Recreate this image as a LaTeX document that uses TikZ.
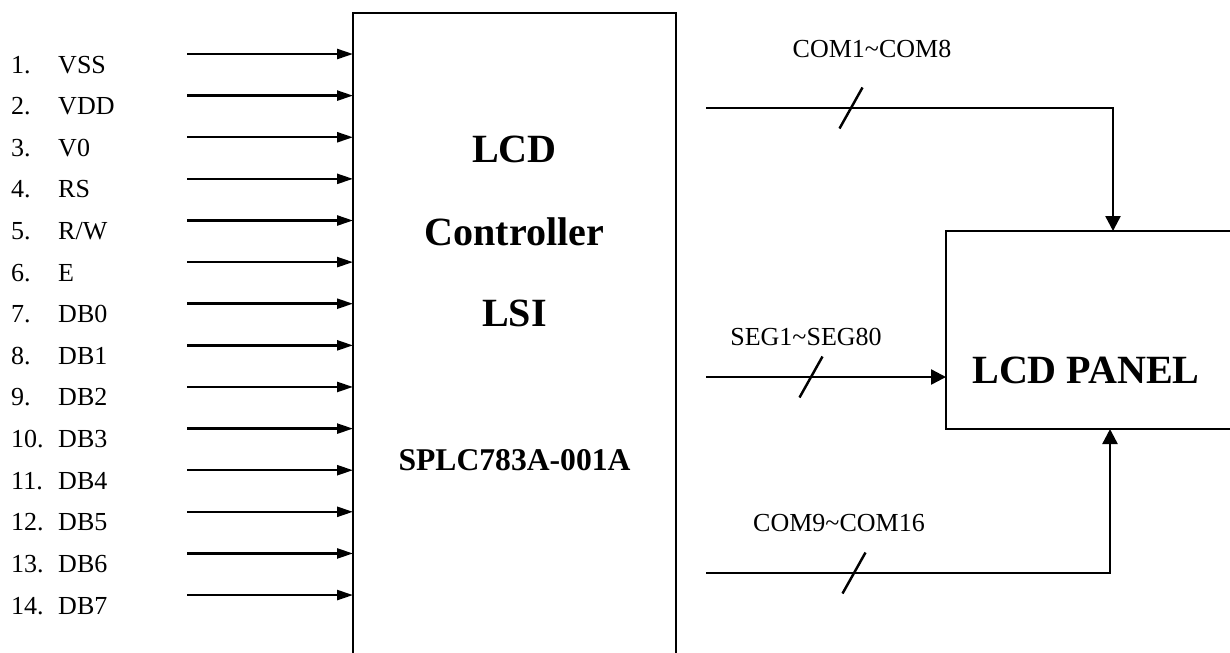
\documentclass[tikz,border=0pt]{standalone}
\usepackage{fontspec}
\setmainfont{Liberation Serif}
\usepackage{tikz}
\usetikzlibrary{arrows.meta, positioning, calc}

\begin{document}
\begin{tikzpicture}[font=\fontsize{14.8}{17}\selectfont, line width=1.4pt,
  pin/.style={anchor=base west, inner sep=0pt},
  blk/.style={draw, rectangle, inner sep=0pt, outer sep=0pt},
  big/.style={font=\fontsize{22.8}{26}\selectfont\bfseries, inner sep=0pt},
  ar/.style={-{Triangle[length=3.2mm, width=2mm]}},
  bus/.style={-{Triangle[length=3mm, width=3mm]}},
  cut/.style={line width=1.4pt}]
\useasboundingbox (0,0) rectangle (24.6,-13.04);
% blocks
\node[blk, minimum width=6.46cm, minimum height=13.14cm] (lsi) at (10.29,-6.83) {};
\node[blk, minimum width=5.72cm, minimum height=3.96cm] (panel) at (21.78,-6.6) {};
\node[big] (t1) at (10.29,-2.98) {LCD};
\node[big] (t2) at (10.29,-4.64) {Controller};
\node[big] (t3) at (10.29,-6.26) {LSI};
\node[font=\fontsize{18}{21}\selectfont\bfseries, inner sep=0pt] (t4) at (10.29,-9.2) {SPLC783A-001A};
\node[big] (t5) at (21.72,-7.4) {LCD PANEL};
% pins
\node[pin] (n1) at (0.2,-1.46) {1.}; \node[pin] (l1) at (1.14,-1.46) {VSS}; \coordinate (a1) at (3.74,-1.08); \draw[ar] (a1) -- (a1 -| lsi.west);
\node[pin] (n2) at (0.2,-2.292) {2.}; \node[pin] (l2) at (1.14,-2.292) {VDD}; \coordinate (a2) at (3.74,-1.912); \draw[ar] (a2) -- (a2 -| lsi.west);
\node[pin] (n3) at (0.2,-3.125) {3.}; \node[pin] (l3) at (1.14,-3.125) {V0}; \coordinate (a3) at (3.74,-2.745); \draw[ar] (a3) -- (a3 -| lsi.west);
\node[pin] (n4) at (0.2,-3.957) {4.}; \node[pin] (l4) at (1.14,-3.957) {RS}; \coordinate (a4) at (3.74,-3.577); \draw[ar] (a4) -- (a4 -| lsi.west);
\node[pin] (n5) at (0.2,-4.79) {5.}; \node[pin] (l5) at (1.14,-4.79) {R/W}; \coordinate (a5) at (3.74,-4.41); \draw[ar] (a5) -- (a5 -| lsi.west);
\node[pin] (n6) at (0.2,-5.622) {6.}; \node[pin] (l6) at (1.14,-5.622) {E}; \coordinate (a6) at (3.74,-5.242); \draw[ar] (a6) -- (a6 -| lsi.west);
\node[pin] (n7) at (0.2,-6.454) {7.}; \node[pin] (l7) at (1.14,-6.454) {DB0}; \coordinate (a7) at (3.74,-6.074); \draw[ar] (a7) -- (a7 -| lsi.west);
\node[pin] (n8) at (0.2,-7.287) {8.}; \node[pin] (l8) at (1.14,-7.287) {DB1}; \coordinate (a8) at (3.74,-6.907); \draw[ar] (a8) -- (a8 -| lsi.west);
\node[pin] (n9) at (0.2,-8.119) {9.}; \node[pin] (l9) at (1.14,-8.119) {DB2}; \coordinate (a9) at (3.74,-7.739); \draw[ar] (a9) -- (a9 -| lsi.west);
\node[pin] (n10) at (0.2,-8.952) {10.}; \node[pin] (l10) at (1.14,-8.952) {DB3}; \coordinate (a10) at (3.74,-8.572); \draw[ar] (a10) -- (a10 -| lsi.west);
\node[pin] (n11) at (0.2,-9.784) {11.}; \node[pin] (l11) at (1.14,-9.784) {DB4}; \coordinate (a11) at (3.74,-9.404); \draw[ar] (a11) -- (a11 -| lsi.west);
\node[pin] (n12) at (0.2,-10.616) {12.}; \node[pin] (l12) at (1.14,-10.616) {DB5}; \coordinate (a12) at (3.74,-10.236); \draw[ar] (a12) -- (a12 -| lsi.west);
\node[pin] (n13) at (0.2,-11.449) {13.}; \node[pin] (l13) at (1.14,-11.449) {DB6}; \coordinate (a13) at (3.74,-11.069); \draw[ar] (a13) -- (a13 -| lsi.west);
\node[pin] (n14) at (0.2,-12.281) {14.}; \node[pin] (l14) at (1.14,-12.281) {DB7}; \coordinate (a14) at (3.74,-11.901); \draw[ar] (a14) -- (a14 -| lsi.west);
% buses to the panel
\coordinate (c1) at (14.12,-2.16); \coordinate (s1) at (14.12,-7.54); \coordinate (c9) at (14.12,-11.46);
\draw[bus] (c1) -| ([xshift=4.8mm]panel.north);
\draw[bus] (s1) -- (s1 -| panel.west);
\draw[bus] (c9) -| ([xshift=4.2mm]panel.south);
\coordinate (k1) at ($(c1)+(2.9,0)$); \coordinate (k2) at ($(s1)+(2.1,0)$); \coordinate (k3) at ($(c9)+(2.96,0)$);
\draw[cut] ([shift={(-0.23,-0.41)}]k1) -- ([shift={(0.23,0.41)}]k1);
\draw[cut] ([shift={(-0.23,-0.41)}]k2) -- ([shift={(0.23,0.41)}]k2);
\draw[cut] ([shift={(-0.23,-0.41)}]k3) -- ([shift={(0.23,0.41)}]k3);
\node (b1) at (17.44,-0.98) {COM1\textasciitilde COM8};
\node (b2) at (16.12,-6.74) {SEG1\textasciitilde SEG80};
\node (b3) at (16.78,-10.46) {COM9\textasciitilde COM16};
\end{tikzpicture}
\end{document}
